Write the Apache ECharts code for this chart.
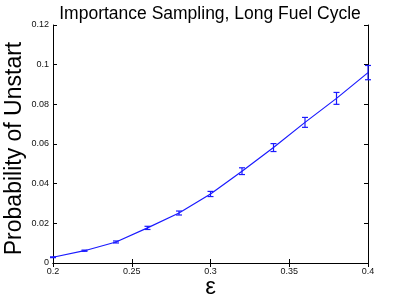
<!DOCTYPE html>
<html><head><meta charset="utf-8">
<script src="https://cdn.jsdelivr.net/npm/echarts@6/dist/echarts.min.js"></script>
<style>html,body{margin:0;padding:0;background:#fff}#c{width:407px;height:303px}</style>
</head><body><div id="c"></div>
<script>
var epsilon = [0.2, 0.22, 0.24, 0.26, 0.28, 0.30, 0.32, 0.34, 0.36, 0.38, 0.40];
var probability = [0.0029, 0.0062, 0.0106, 0.0177, 0.0252, 0.0348, 0.0463, 0.0582, 0.0709, 0.0830, 0.0960];
var errorHalf = [0.0002, 0.0003, 0.0005, 0.0008, 0.0010, 0.0013, 0.0017, 0.0020, 0.0025, 0.0030, 0.0036];
var xTicks = [0.2, 0.25, 0.3, 0.35, 0.4];
var yTicks = [0, 0.02, 0.04, 0.06, 0.08, 0.1, 0.12];

var lineData = epsilon.map(function(x, i){ return [x, probability[i]]; });
var errData = epsilon.map(function(x, i){ return [x, probability[i] - errorHalf[i], probability[i] + errorHalf[i]]; });
var font = 'Liberation Sans, Arial, sans-serif';
var blue = '#1a1aff';
function fmt(v){ return v === 0 ? '0' : String(+v.toFixed(2)); }

var chart = echarts.init(document.getElementById('c'));
chart.setOption({
  animation: false,
  title: {text: 'Importance Sampling, Long Fuel Cycle', left: 205, top: 0, textAlign: 'center',
    textStyle: {fontFamily: font, fontSize: 17.5, fontWeight: 'normal', color: '#000'}},
  grid: {left: 53, top: 25, width: 315, height: 238, containLabel: false, outerBoundsMode: 'none'},
  xAxis: [{
    type: 'value', min: 0.2, max: 0.4, interval: 0.05, position: 'bottom',
    axisLine: {lineStyle: {color: '#000', width: 1}},
    axisTick: {inside: true, length: 4, lineStyle: {color: '#000'}},
    axisLabel: {fontFamily: font, fontSize: 9, color: '#111', margin: 4, formatter: fmt},
    splitLine: {show: false},
    name: 'ε', nameLocation: 'middle', nameGap: 12, nameMoveOverlap: false,
    nameTextStyle: {fontFamily: font, fontSize: 24, color: '#000'}
  }, {
    type: 'value', min: 0.2, max: 0.4, interval: 0.05, position: 'top',
    axisLine: {show: true, lineStyle: {color: '#000'}},
    axisTick: {inside: true, length: 4, lineStyle: {color: '#000'}},
    axisLabel: {show: false}, splitLine: {show: false}
  }],
  yAxis: [{
    type: 'value', min: 0, max: 0.12, interval: 0.02, position: 'left',
    axisLine: {show: true, lineStyle: {color: '#000'}},
    axisTick: {show: true, inside: true, length: 4, lineStyle: {color: '#000'}},
    axisLabel: {fontFamily: font, fontSize: 9, color: '#111', margin: 4, formatter: fmt},
    splitLine: {show: false},
    name: 'Probability of Unstart', nameLocation: 'middle', nameGap: 27, nameMoveOverlap: false,
    nameTextStyle: {fontFamily: font, fontSize: 23, color: '#000', padding: [0, 9, 0, 0]}
  }, {
    type: 'value', min: 0, max: 0.12, interval: 0.02, position: 'right',
    axisLine: {show: true, lineStyle: {color: '#000'}},
    axisTick: {show: true, inside: true, length: 4, lineStyle: {color: '#000'}},
    axisLabel: {show: false}, splitLine: {show: false}
  }],
  series: [{
    type: 'line', data: lineData, xAxisIndex: 0, yAxisIndex: 0,
    symbol: 'none', lineStyle: {color: blue, width: 1.2}, z: 3
  }, {
    type: 'custom', data: errData, xAxisIndex: 0, yAxisIndex: 0, z: 4,
    renderItem: function(params, api){
      var x = api.value(0);
      var lo = api.coord([x, api.value(1)]);
      var hi = api.coord([x, api.value(2)]);
      var w = 3;
      var st = {stroke: blue, lineWidth: 1.2};
      return {type: 'group', children: [
        {type: 'line', shape: {x1: lo[0], y1: lo[1], x2: hi[0], y2: hi[1]}, style: st},
        {type: 'line', shape: {x1: lo[0]-w, y1: lo[1], x2: lo[0]+w, y2: lo[1]}, style: st},
        {type: 'line', shape: {x1: hi[0]-w, y1: hi[1], x2: hi[0]+w, y2: hi[1]}, style: st}
      ]};
    }
  }]
});
</script></body></html>
